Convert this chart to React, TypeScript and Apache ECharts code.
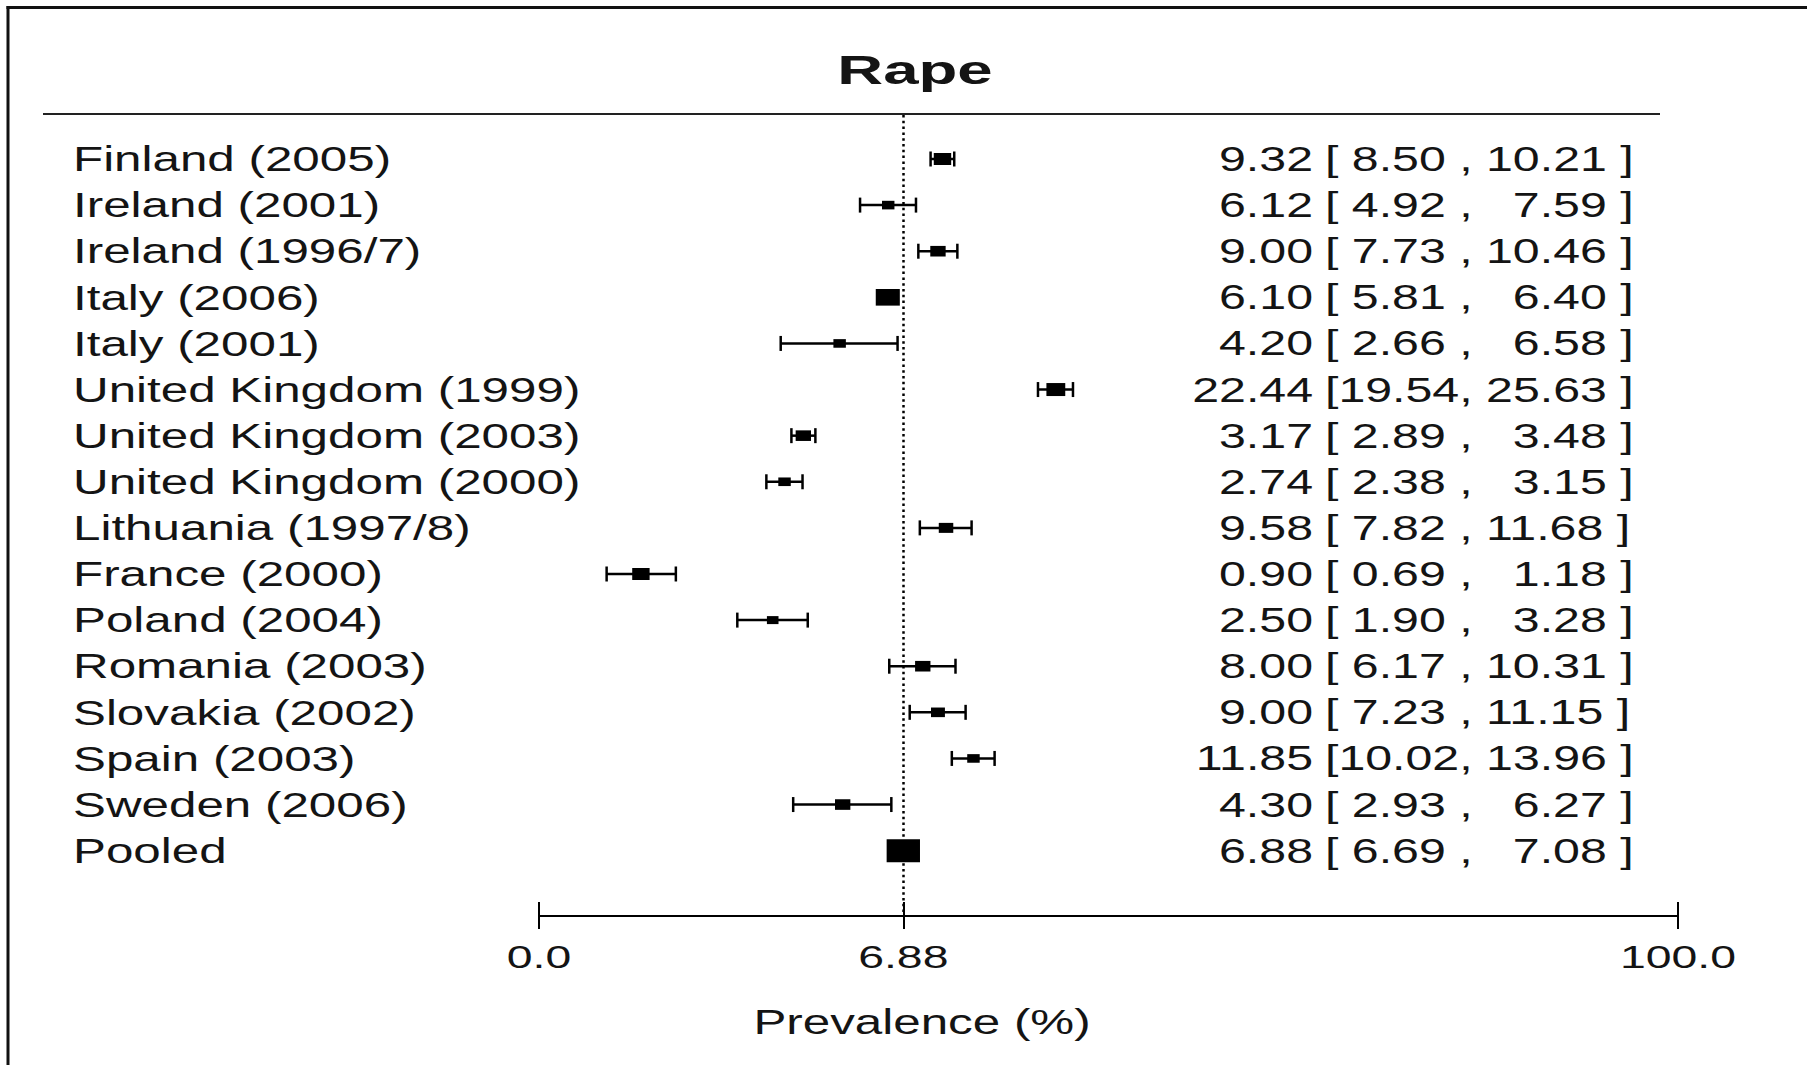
import React, { useEffect, useRef } from "react";
import * as echarts from "echarts";

// ---------- data ----------
const studies = [
  "Finland (2005)",
  "Ireland (2001)",
  "Ireland (1996/7)",
  "Italy (2006)",
  "Italy (2001)",
  "United Kingdom (1999)",
  "United Kingdom (2003)",
  "United Kingdom (2000)",
  "Lithuania (1997/8)",
  "France (2000)",
  "Poland (2004)",
  "Romania (2003)",
  "Slovakia (2002)",
  "Spain (2003)",
  "Sweden (2006)",
  "Pooled",
];
const prevalence = [9.32, 6.12, 9.0, 6.1, 4.2, 22.44, 3.17, 2.74, 9.58, 0.9, 2.5, 8.0, 9.0, 11.85, 4.3, 6.88];
const ciLower = [8.5, 4.92, 7.73, 5.81, 2.66, 19.54, 2.89, 2.38, 7.82, 0.69, 1.9, 6.17, 7.23, 10.02, 2.93, 6.69];
const ciUpper = [10.21, 7.59, 10.46, 6.4, 6.58, 25.63, 3.48, 3.15, 11.68, 1.18, 3.28, 10.31, 11.15, 13.96, 6.27, 7.08];
// relative study weights (drives square size)
const studyWeights = [6.0, 4.3, 5.3, 8.3, 4.3, 6.5, 5.3, 4.3, 5.0, 6.0, 4.0, 5.3, 4.8, 4.3, 5.3, 11.5];
const pooledEstimate = 6.88;
const tickLabels = ["0.0", "6.88", "100.0"];
// display range of the (log) prevalence axis: the ends are labelled 0.0 and 100.0
const axisLowEnd = 0.4085;
const axisHighEnd = 2789;
const titleText = "Rape";
const axisTitle = "Prevalence (%)";

// ---------- helpers ----------
const ln = Math.log;
const NB = "\u00A0";
const FONT = '"Liberation Sans", Arial, Helvetica, sans-serif';
const STRETCH = 1.41;
const INK = "#141414";

function ciText(lo: number, hi: number): string {
  const l = lo.toFixed(2);
  const h = hi.toFixed(2);
  const lPart = lo >= 10 ? "[" + l + "," : "[" + NB + l + NB + ",";
  const hPart = hi >= 10 ? NB + h + NB + "]" : NB + NB + NB + h + NB + "]";
  return lPart + hPart;
}

const X_MIN = ln(axisLowEnd);
const X_MAX = ln(axisHighEnd);
const tickValues = [X_MIN, ln(pooledEstimate), X_MAX];
const ROW_MIN = -0.954;
const ROW_MAX = 16.417;

function txt(x: number, y: number, text: string, font: string, align: string, scaleX: number) {
  return {
    type: "text",
    x,
    y,
    scaleX,
    scaleY: 1,
    style: {
      text,
      x: 0,
      y: 0,
      fill: INK,
      font,
      align,
      textAlign: align,
      verticalAlign: "middle",
      textVerticalAlign: "middle",
    },
  };
}

export default function App() {
  const ref = useRef<HTMLDivElement>(null);

  useEffect(() => {
    document.body.style.margin = "0";
    if (!ref.current) return;
    const chart = echarts.init(ref.current, undefined, { renderer: "svg" });

    const markData = studies.map((_, i) => [
      ln(prevalence[i]),
      ln(ciLower[i]),
      ln(ciUpper[i]),
      i,
      studyWeights[i],
    ]);
    const labelData = studies.map((_, i) => [ln(prevalence[i]), i]);
    const tickData = tickValues.map((v, k) => [v, k]);

    const option: any = {
      animation: false,
      backgroundColor: "#fff",
      grid: {
        left: 539,
        right: 129,
        top: 115,
        bottom: 149,
        containLabel: false,
        outerBoundsMode: "none",
      },
      xAxis: [
        {
          type: "value",
          min: X_MIN,
          max: X_MAX,
          position: "bottom",
          axisLine: { show: true, onZero: false, lineStyle: { color: "#000", width: 2 } },
          axisTick: {
            show: true,
            customValues: tickValues,
            inside: false,
            length: 13,
            lineStyle: { color: "#000", width: 2 },
          },
          axisLabel: { show: false },
          splitLine: { show: false },
        },
        {
          type: "value",
          min: X_MIN,
          max: X_MAX,
          position: "bottom",
          axisLine: { show: false, onZero: false },
          axisTick: {
            show: true,
            customValues: tickValues,
            inside: true,
            length: 14,
            lineStyle: { color: "#000", width: 2 },
          },
          axisLabel: { show: false },
          splitLine: { show: false },
        },
      ],
      yAxis: {
        type: "value",
        inverse: true,
        min: ROW_MIN,
        max: ROW_MAX,
        show: false,
        splitLine: { show: false },
      },
      series: [
        {
          type: "line",
          name: "pooled line",
          data: [],
          z: 1,
          markLine: {
            silent: true,
            symbol: ["none", "none"],
            label: { show: false },
            lineStyle: { color: "#000", width: 2.5, type: [2.5, 3.3] },
            data: [{ xAxis: ln(pooledEstimate) }],
          },
        },
        {
          type: "custom",
          name: "estimates",
          z: 3,
          silent: true,
          data: markData,
          encode: { x: [0, 1, 2], y: 3 },
          renderItem: (params: any, api: any) => {
            const row = api.value(3);
            const p = api.coord([api.value(0), row]);
            const lo = api.coord([api.value(1), row]);
            const hi = api.coord([api.value(2), row]);
            const h = api.value(4) * 2;
            const w = h * 1.45;
            const cap = 7.5;
            const ls = { stroke: "#000", lineWidth: 2.5 };
            return {
              type: "group",
              children: [
                { type: "line", shape: { x1: lo[0], y1: lo[1], x2: hi[0], y2: hi[1] }, style: ls },
                { type: "line", shape: { x1: lo[0], y1: lo[1] - cap, x2: lo[0], y2: lo[1] + cap }, style: ls },
                { type: "line", shape: { x1: hi[0], y1: hi[1] - cap, x2: hi[0], y2: hi[1] + cap }, style: ls },
                {
                  type: "rect",
                  shape: { x: p[0] - w / 2, y: p[1] - h / 2, width: w, height: h },
                  style: { fill: "#000" },
                },
              ],
            };
          },
        },
        {
          type: "custom",
          name: "texts",
          z: 4,
          silent: true,
          data: labelData,
          encode: { x: 0, y: 1 },
          renderItem: (params: any, api: any) => {
            const i = params.dataIndex;
            const y = api.coord([api.value(0), api.value(1)])[1];
            const f = "35px " + FONT;
            return {
              type: "group",
              children: [
                txt(73, y, studies[i], f, "left", STRETCH),
                txt(1313, y, prevalence[i].toFixed(2), f, "right", 1.38),
                txt(1325, y, ciText(ciLower[i], ciUpper[i]), f, "left", 1.38),
              ],
            };
          },
        },
        {
          type: "custom",
          name: "tick labels",
          z: 4,
          silent: true,
          data: tickData,
          encode: { x: 0, y: 1 },
          renderItem: (params: any, api: any) => {
            const k = params.dataIndex;
            const c = api.coord([api.value(0), ROW_MAX]);
            return txt(c[0], c[1] + 41, tickLabels[k], "32px " + FONT, "center", 1.45);
          },
        },
      ],
      graphic: [
        // frame
        { type: "line", shape: { x1: 6.5, y1: 7.5, x2: 1807, y2: 7.5 }, style: { stroke: "#111", lineWidth: 3 } },
        { type: "line", shape: { x1: 8, y1: 6, x2: 8, y2: 1065 }, style: { stroke: "#111", lineWidth: 3 } },
        // rule under title
        { type: "line", shape: { x1: 43, y1: 114, x2: 1660, y2: 114 }, style: { stroke: "#222", lineWidth: 2 } },
        txt(915, 70, titleText, "bold 41px " + FONT, "center", 1.55),
        txt(922, 1022, axisTitle, "35px " + FONT, "center", STRETCH),
      ],
    };

    chart.setOption(option);
    return () => chart.dispose();
  }, []);

  return (
    <div
      ref={ref}
      style={{ position: "fixed", left: 0, top: 0, width: 1807, height: 1065, background: "#fff" }}
    />
  );
}
